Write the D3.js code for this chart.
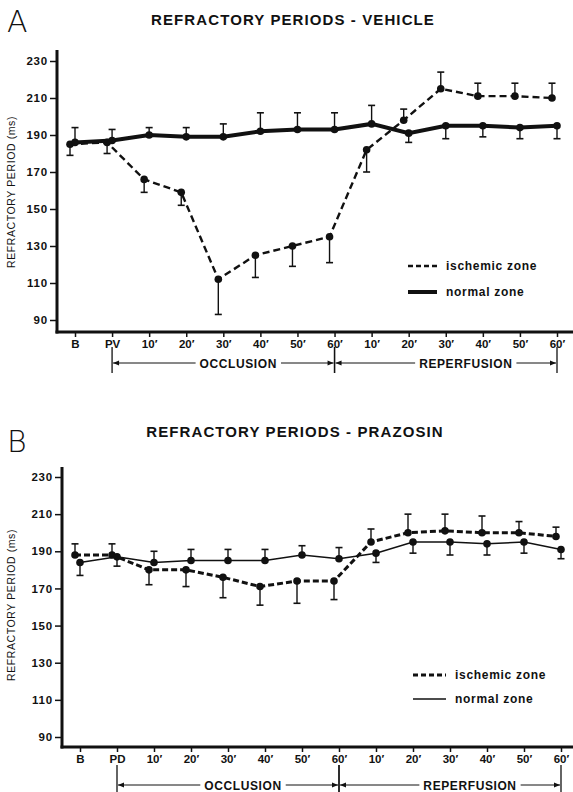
<!DOCTYPE html>
<html>
<head>
<meta charset="utf-8">
<script src="https://cdn.jsdelivr.net/npm/d3@7"></script>
<style>
  body { margin: 0; background: #fff; }
  svg { display: block; }
  text { font-family: "Liberation Sans", Arial, Helvetica, sans-serif; fill: #111; }
</style>
</head>
<body>
<svg id="svg" width="573" height="792"></svg>
<script>
// time points: baseline, pre-drug, 6 occlusion, 6 reperfusion
let vehicleLabels = ["B", "PV", "10′", "20′", "30′", "40′", "50′", "60′", "10′", "20′", "30′", "40′", "50′", "60′"];
let prazosinLabels = ["B", "PD", "10′", "20′", "30′", "40′", "50′", "60′", "10′", "20′", "30′", "40′", "50′", "60′"];
let yTicks = [90, 110, 130, 150, 170, 190, 210, 230];

// panel A - vehicle (ms)
let vehicleIschemic    = [185, 186, 166, 159, 112, 125, 130, 135, 182, 198, 215, 211, 211, 210];
let vehicleIschemicErr = [6, 6, 7, 7, 19, 12, 11, 14, 12, 6, 9, 7, 7, 8];
let vehicleIschemicDir = [-1, -1, -1, -1, -1, -1, -1, -1, -1, 1, 1, 1, 1, 1];
let vehicleNormal      = [186, 187, 190, 189, 189, 192, 193, 193, 196, 191, 195, 195, 194, 195];
let vehicleNormalErr   = [8, 6, 4, 5, 7, 10, 9, 9, 10, 5, 7, 6, 6, 7];
let vehicleNormalDir   = [1, 1, 1, 1, 1, 1, 1, 1, 1, -1, -1, -1, -1, -1];

// panel B - prazosin (ms)
let prazosinIschemic    = [188, 188, 180, 180, 176, 171, 174, 174, 195, 200, 201, 200, 200, 198];
let prazosinIschemicErr = [6, 6, 8, 9, 11, 10, 12, 10, 7, 10, 9, 9, 6, 5];
let prazosinIschemicDir = [1, 1, -1, -1, -1, -1, -1, -1, 1, 1, 1, 1, 1, 1];
let prazosinNormal      = [184, 187, 184, 185, 185, 185, 188, 186, 189, 195, 195, 194, 195, 191];
let prazosinNormalErr   = [7, 5, 6, 6, 6, 6, 5, 6, 5, 6, 7, 6, 6, 5];
let prazosinNormalDir   = [-1, -1, 1, 1, 1, 1, 1, 1, -1, -1, -1, -1, -1, -1];

let svg = d3.select("#svg");

let defs = svg.append("defs");
defs.append("marker")
    .attr("id", "arrow")
    .attr("viewBox", "0 0 10 10")
    .attr("refX", 10).attr("refY", 5)
    .attr("markerWidth", 7).attr("markerHeight", 6)
    .attr("markerUnits", "userSpaceOnUse")
    .attr("orient", "auto-start-reverse")
    .append("path")
    .attr("d", "M0,1 L10,5 L0,9 Z")
    .attr("fill", "#111");

function drawPanel(p) {
    const g = svg.append("g");

    const x = d3.scalePoint()
        .domain(d3.range(p.labels.length))
        .range(p.xRange);

    const y = d3.scaleLinear()
        .domain([90, 230])
        .range([p.y90, p.y230]);

    // panel letter + title
    g.append("text")
        .attr("x", 7).attr("y", p.letterY)
        .style("font-family", "'DejaVu Sans', sans-serif")
        .style("font-weight", 200)
        .style("font-size", "30px")
        .text(p.letter);

    g.append("text")
        .attr("x", p.titleX).attr("y", p.titleY)
        .attr("text-anchor", "middle")
        .style("font-weight", "bold")
        .style("font-size", "15px")
        .style("letter-spacing", "1.1px")
        .text(p.title);

    // y axis
    const yAxis = g.append("g")
        .attr("transform", `translate(${p.axisX},0)`)
        .call(d3.axisLeft(y).tickValues(yTicks).tickSize(7).tickPadding(2));
    yAxis.select(".domain").remove();
    yAxis.selectAll("line").attr("stroke", "#111").attr("stroke-width", 1.5);
    yAxis.selectAll("text")
        .style("font-size", "11.5px")
        .style("font-weight", "bold")
        .style("letter-spacing", "0.8px")
        .style("font-family", "'Liberation Sans', Arial, sans-serif");

    g.append("line")
        .attr("x1", p.axisX).attr("x2", p.axisX)
        .attr("y1", p.axisTop).attr("y2", p.axisBottom + 1.5)
        .attr("stroke", "#111").attr("stroke-width", 3);

    // x axis
    const xAxis = g.append("g")
        .attr("transform", `translate(0,${p.axisBottom})`)
        .call(d3.axisBottom(x).tickFormat(i => p.labels[i]).tickSize(5).tickPadding(3));
    xAxis.select(".domain").remove();
    xAxis.selectAll("line").attr("stroke", "#111").attr("stroke-width", 1.5);
    xAxis.selectAll("text")
        .style("font-size", "11.5px")
        .style("font-weight", "bold")
        .style("font-family", "'Liberation Sans', Arial, sans-serif");

    g.append("line")
        .attr("x1", p.axisX - 1.5).attr("x2", 573)
        .attr("y1", p.axisBottom).attr("y2", p.axisBottom)
        .attr("stroke", "#111").attr("stroke-width", 3);

    g.append("text")
        .attr("transform", `translate(${p.yLabelX},${p.yLabelY}) rotate(-90)`)
        .attr("text-anchor", "middle")
        .style("font-size", "10.5px")
        .style("letter-spacing", "0.6px")
        .text("REFRACTORY PERIOD (ms)");

    // series
    const series = [
        { values: p.ischemic, err: p.ischemicErr, dir: p.ischemicDir, dx: -5, width: p.ischemicWidth, dash: p.ischemicDash },
        { values: p.normal, err: p.normalErr, dir: p.normalDir, dx: 0, width: p.normalWidth, dash: null }
    ];

    series.forEach(s => {
        const pts = s.values.map((v, i) => ({ i: i, v: v, e: s.err[i], d: s.dir[i] }));
        const sg = g.append("g");

        sg.selectAll(".err")
            .data(pts)
            .join("line")
            .attr("x1", d => x(d.i) + s.dx).attr("x2", d => x(d.i) + s.dx)
            .attr("y1", d => y(d.v))
            .attr("y2", d => y(d.v + d.d * d.e))
            .attr("stroke", "#111").attr("stroke-width", 1.4);

        sg.selectAll(".cap")
            .data(pts)
            .join("line")
            .attr("x1", d => x(d.i) + s.dx - 3.5).attr("x2", d => x(d.i) + s.dx + 3.5)
            .attr("y1", d => y(d.v + d.d * d.e))
            .attr("y2", d => y(d.v + d.d * d.e))
            .attr("stroke", "#111").attr("stroke-width", 1.6);

        const line = d3.line()
            .x(d => x(d.i) + s.dx)
            .y(d => y(d.v));

        sg.append("path")
            .datum(pts)
            .attr("d", line)
            .attr("fill", "none")
            .attr("stroke", "#111")
            .attr("stroke-width", s.width)
            .attr("stroke-dasharray", s.dash);

        sg.selectAll("circle")
            .data(pts)
            .join("circle")
            .attr("cx", d => x(d.i) + s.dx)
            .attr("cy", d => y(d.v))
            .attr("r", 3.8)
            .attr("fill", "#111");
    });

    // legend
    const lg = g.append("g");
    lg.append("line")
        .attr("x1", p.legendX).attr("x2", p.legendX + p.legendLen)
        .attr("y1", p.legendY).attr("y2", p.legendY)
        .attr("stroke", "#111").attr("stroke-width", p.ischemicWidth)
        .attr("stroke-dasharray", p.legendDash);
    lg.append("line")
        .attr("x1", p.legendX).attr("x2", p.legendX + p.legendLen)
        .attr("y1", p.legendY + p.legendGap).attr("y2", p.legendY + p.legendGap)
        .attr("stroke", "#111").attr("stroke-width", p.normalWidth);
    lg.append("text")
        .attr("x", p.legendX + p.legendLen + 9).attr("y", p.legendY + 4)
        .style("font-size", "12px").style("font-weight", "bold")
        .style("letter-spacing", "0.7px")
        .text("ischemic zone");
    lg.append("text")
        .attr("x", p.legendX + p.legendLen + 9).attr("y", p.legendY + p.legendGap + 4)
        .style("font-size", "12px").style("font-weight", "bold")
        .style("letter-spacing", "0.7px")
        .text("normal zone");

    // occlusion / reperfusion brackets
    const brackets = [
        { from: 1, to: 7, text: "OCCLUSION", shift: 15 },
        { from: 7, to: 13, text: "REPERFUSION", shift: 20 }
    ];
    brackets.forEach(b => {
        const x1 = x(b.from), x2 = x(b.to);
        const bg = g.append("g");
        bg.append("line")
            .attr("x1", x1).attr("x2", x1)
            .attr("y1", p.bracketTop).attr("y2", p.bracketBottom)
            .attr("stroke", "#111").attr("stroke-width", 1.3);
        bg.append("line")
            .attr("x1", x2).attr("x2", x2)
            .attr("y1", p.bracketTop).attr("y2", p.bracketBottom)
            .attr("stroke", "#111").attr("stroke-width", 1.3);
        bg.append("line")
            .attr("x1", x1 + 1).attr("x2", x2 - 1)
            .attr("y1", p.bracketY).attr("y2", p.bracketY)
            .attr("stroke", "#111").attr("stroke-width", 1)
            .attr("marker-start", "url(#arrow)")
            .attr("marker-end", "url(#arrow)");
        const tx = (x1 + x2) / 2 + b.shift;
        const t = bg.append("text")
            .attr("x", tx).attr("y", p.bracketY + 4.5)
            .attr("text-anchor", "middle")
            .style("font-size", "12px").style("font-weight", "bold")
            .style("letter-spacing", "0.6px")
            .text(b.text);
        const bb = t.node().getBBox();
        bg.insert("rect", "text")
            .attr("x", bb.x - 4).attr("y", bb.y)
            .attr("width", bb.width + 8).attr("height", bb.height)
            .attr("fill", "#fff");
    });
}

drawPanel({
    letter: "A", letterY: 32,
    title: "REFRACTORY PERIODS - VEHICLE", titleX: 293, titleY: 25,
    labels: vehicleLabels,
    ischemic: vehicleIschemic, ischemicErr: vehicleIschemicErr, ischemicDir: vehicleIschemicDir,
    normal: vehicleNormal, normalErr: vehicleNormalErr, normalDir: vehicleNormalDir,
    xRange: [75, 557], y90: 320, y230: 61,
    axisX: 57, axisTop: 50, axisBottom: 332,
    yLabelX: 15, yLabelY: 192,
    ischemicWidth: 2.4, ischemicDash: "7,4", normalWidth: 4,
    legendX: 408, legendLen: 29, legendY: 266, legendGap: 26, legendDash: "5,3",
    bracketTop: 347, bracketBottom: 373, bracketY: 363
});

drawPanel({
    letter: "B", letterY: 452,
    title: "REFRACTORY PERIODS - PRAZOSIN", titleX: 295, titleY: 437,
    labels: prazosinLabels,
    ischemic: prazosinIschemic, ischemicErr: prazosinIschemicErr, ischemicDir: prazosinIschemicDir,
    normal: prazosinNormal, normalErr: prazosinNormalErr, normalDir: prazosinNormalDir,
    xRange: [80, 561], y90: 737, y230: 477,
    axisX: 62, axisTop: 467, axisBottom: 747,
    yLabelX: 15, yLabelY: 605,
    ischemicWidth: 3, ischemicDash: "6,3", normalWidth: 1.5,
    legendX: 413, legendLen: 33, legendY: 675, legendGap: 24, legendDash: "5,3",
    bracketTop: 765, bracketBottom: 792, bracketY: 785
});
</script>
</body>
</html>
